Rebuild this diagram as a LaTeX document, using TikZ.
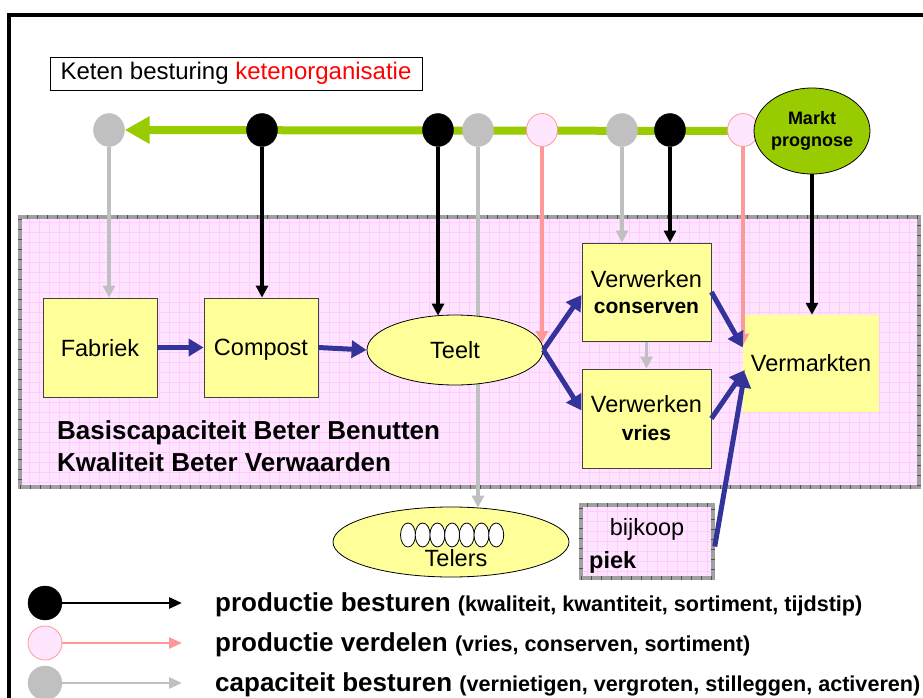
\documentclass[tikz,border=0pt]{standalone}
\usepackage{fontspec}
\setmainfont{Liberation Sans}
\usetikzlibrary{arrows.meta,calc,shapes.geometric}

\definecolor{limegreen}{HTML}{99CC00}
\definecolor{lgray}{HTML}{C0C0C0}
\definecolor{rose}{HTML}{FF9999}
\definecolor{blush}{HTML}{FFE6FF}
\definecolor{pale}{HTML}{FFFF99}
\definecolor{navy}{HTML}{333399}
\definecolor{zonefill}{HTML}{FFE4FF}
\definecolor{zonegrid}{HTML}{FFCCFF}
\definecolor{zoneedge}{HTML}{A0A0A0}
\definecolor{zonetick}{HTML}{505050}
\definecolor{boxedge}{HTML}{404040}

\newcommand\subfont{\fontsize{21}{26}\selectfont\bfseries}
\newcommand\parenfont{\fontsize{21.6}{26}\selectfont}

\pgfdeclarelayer{back}
\pgfdeclarelayer{mid}
\pgfdeclarelayer{over}
\pgfsetlayers{back,mid,main,over}

\begin{document}
\begin{tikzpicture}[x=1pt,y=-1pt,
  txt/.style={font=\fontsize{23.5}{26}\selectfont},
  procbox/.style={txt, rectangle, fill=pale, draw=boxedge, line width=0.8pt,
    inner sep=0pt, minimum width=114pt, minimum height=99pt, align=center},
  zone/.style={rectangle, fill=zonefill, draw=zoneedge, line width=3.5pt, inner sep=0pt,
    path picture={\draw[zonegrid, line width=0.5pt, step=10pt]
      (path picture bounding box.south west) grid (path picture bounding box.north east);},
    postaction={draw=zonetick, line width=3.5pt, dash pattern=on 1pt off 9pt}},
  dot/.style={ellipse, minimum width=31pt, minimum height=33pt, inner sep=0pt},
  dotblack/.style={dot, fill=black, draw=black},
  dotgray/.style={dot, fill=lgray, draw=lgray},
  dotpink/.style={dot, fill=blush, draw=rose, line width=0.8pt},
  ctrl/.style={line width=3.4pt, -{Triangle[length=12pt,width=12pt]}},
  blackline/.style={ctrl, draw=black},
  grayline/.style={ctrl, draw=lgray},
  pinkline/.style={ctrl, draw=rose},
  greenline/.style={draw=limegreen, line width=8pt, -{Triangle[length=25pt,width=26pt]}},
  flow/.style={draw=navy, line width=5pt, -{Triangle[length=15pt,width=17pt]}},
  legline/.style={line width=2.8pt, -{Triangle[length=13pt,width=11pt]}},
  legdot/.style={ellipse, minimum width=34pt, minimum height=34pt, inner sep=0pt},
  legmain/.style={anchor=base west, inner sep=0pt, font=\fontsize{26}{30}\selectfont\bfseries},
  caption/.style={anchor=base west, inner sep=0pt, font=\fontsize{26}{32}\selectfont\bfseries}
]
\useasboundingbox (0,0) rectangle (923,698);
\clip (0,0) rectangle (923,698);

% chain region on a white page
\begin{pgfonlayer}{back}
  \fill[white] (0,0) rectangle (923,698);
  \node[zone, minimum width=899pt, minimum height=270pt] (zone) at (469.5,352) {};
\end{pgfonlayer}

% outer frame, running off the right and bottom edges
\draw[line width=4pt] (9,750) -- (9,15) -- (960,15);

% title
\node[draw=black, line width=0.6pt, inner sep=0pt, minimum width=372pt,
  minimum height=33pt, font=\fontsize{24}{28}\selectfont] (title) at (236,73.5)
  {Keten besturing \textcolor{red}{ketenorganisatie}};

% control points on the steering line
\node[dotgray]  (c1) at (109,130) {};
\node[dotblack] (c2) at (262,130) {};
\node[dotblack] (c3) at (438,130) {};
\node[dotgray]  (c4) at (478,130) {};
\node[dotpink]  (c5) at (542,130) {};
\node[dotgray]  (c6) at (622,130) {};
\node[dotblack] (c7) at (670,130) {};
\node[dotpink]  (c8) at (743,130) {};
\node[ellipse, fill=limegreen, draw=black, line width=0.8pt, minimum width=88pt,
  minimum height=86pt, inner sep=0pt, align=center,
  font=\fontsize{18}{22}\selectfont\bfseries] (markt) at (812,131) {Markt\\prognose};

% chain steps
\node[procbox, text depth=0pt] (fab)  at (100,347.5) {Fabriek};
\node[procbox, text depth=0pt] (comp) at (261,347.5) {Compost};
\node[txt, ellipse, fill=pale, draw=black, line width=0.8pt, minimum width=176pt,
  minimum height=70pt, inner sep=0pt] (teelt) at (455,350) {Teelt};
\node[procbox, minimum width=129pt, minimum height=98pt] (vcons) at (646.5,292)
  {Verwerken\\[0pt]{\subfont conserven}};
\node[procbox, minimum width=129pt, minimum height=99pt] (vvries) at (646.5,418.5)
  {Verwerken\\[2pt]{\subfont vries}};
\node[txt, rectangle, fill=pale, inner sep=0pt, minimum width=136pt,
  minimum height=97pt] (verm) at (811,363.5) {Vermarkten};

\node[caption] (cap1) at (57,439) {Basiscapaciteit Beter Benutten};
\node[caption] (cap2) at (57,471) {Kwaliteit Beter Verwaarden};

% growers
\node[ellipse, fill=pale, draw=black, line width=0.8pt, minimum width=236pt,
  minimum height=70pt, inner sep=0pt] (telers) at (451,542) {};
\foreach \i in {0,...,6}
  \node[ellipse, fill=white, draw=black, line width=0.8pt, minimum width=15pt,
    minimum height=24pt, inner sep=0pt] (s\i) at ({408+14.7*\i},535) {};
\node[txt, inner sep=0pt] (telerstxt) at (456,558) {Telers};

% extra purchase at peak
\node[zone, minimum width=132pt, minimum height=73pt] (bijkoop) at (647,541.5) {};
\node[txt, inner sep=0pt] (bijtxt) at (647,529) {bijkoop};
\node[txt, font=\fontsize{23.5}{26}\selectfont\bfseries, anchor=west, inner sep=0pt]
  (piek) at (589,562) {piek};

% legend
\node[legdot, fill=black, draw=black] (l1) at (45,603) {};
\node[legdot, fill=blush, draw=rose, line width=0.8pt] (l2) at (45,643) {};
\node[legdot, fill=lgray, draw=lgray] (l3) at (45,683) {};
\coordinate (e1) at (182,603);
\coordinate (e2) at (182,643);
\coordinate (e3) at (182,683);
\node[legmain] (t1) at (215,611) {productie besturen {\parenfont(kwaliteit, kwantiteit, sortiment, tijdstip)}};
\node[legmain] (t2) at (215,651) {productie verdelen {\parenfont(vries, conserven, sortiment)}};
\node[legmain] (t3) at (215,691) {capaciteit besturen {\parenfont(vernietigen, vergroten, stilleggen, activeren)}};

\coordinate (p5) at (542,343);

% control connectors
\begin{pgfonlayer}{mid}
  \draw[greenline] (markt.west) -- (c1.east);
  \draw[grayline]  (c1) -- (c1 |- fab.north);
  \draw[blackline] (c2) -- (c2 |- comp.north);
  \draw[blackline] (c3) -- ($(c3 |- teelt.north)+(0,1)$);
  \draw[grayline]  (c4) -- ($(c4 |- telers.north)+(0,1)$);
  \draw[pinkline]  (c5) -- (p5);
  \draw[grayline]  (c6) -- (c6 |- vcons.north);
  \draw[blackline] (c7) -- (c7 |- vcons.north);
  \draw[blackline] (markt) -- (markt |- verm.north);
  \draw[grayline]  (vcons.south) -- (vvries.north);
  \draw[legline, draw=black] (l1) -- (e1);
  \draw[legline, draw=rose]  (l2) -- (e2);
  \draw[legline, draw=lgray] (l3) -- (e3);
\end{pgfonlayer}

% product flow
\begin{pgfonlayer}{over}
  \draw[pinkline] (c8) -- ($(c8 |- verm.west)+(0,-18)$);
  \draw[flow] (fab.east) -- (comp.west);
  \draw[flow] (comp.east) -- (teelt.west);
  \draw[flow] (teelt.east) -- ([yshift=-3pt]vcons.west);
  \draw[flow] (teelt.east) -- ([yshift=8pt]vvries.west);
  \draw[flow] (vcons.east) -- ([yshift=16pt]verm.west);
  \draw[flow] (vvries.east) -- ([xshift=2pt,yshift=-6.5pt]verm.west);
  \draw[flow] ([yshift=-5pt]bijkoop.east) -- ([xshift=2pt,yshift=-9pt]verm.west);
\end{pgfonlayer}
\end{tikzpicture}
\end{document}
